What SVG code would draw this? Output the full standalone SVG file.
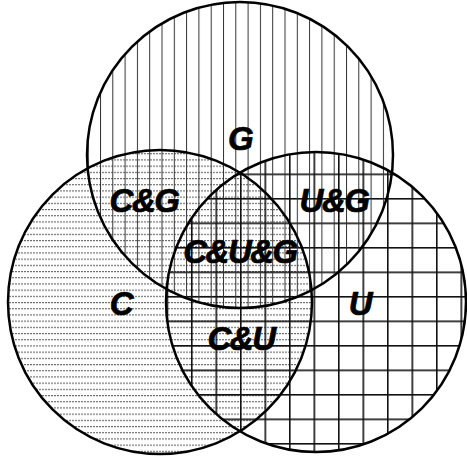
<svg xmlns="http://www.w3.org/2000/svg" width="467" height="459" viewBox="0 0 467 459">
  <style>
    .outline { fill: none; stroke: #000; stroke-width: 2.5; }
    .lbl { font-family: "Liberation Sans", Arial, sans-serif; font-weight: bold; font-style: italic; font-size: 33px; letter-spacing: -1.5px; fill: #000; stroke: #000; stroke-width: 0.7; text-anchor: middle; }
  </style>
  <defs>
    <pattern id="patG" patternUnits="userSpaceOnUse" x="100" y="0" width="12.3" height="20">
      <line x1="0.5" y1="0" x2="0.5" y2="20" stroke="#333" stroke-width="1"/>
    </pattern>
    <pattern id="patC" patternUnits="userSpaceOnUse" x="0" y="302" width="12" height="6.2">
      <line x1="0" y1="0.5" x2="12" y2="0.5" stroke="#666" stroke-width="1" stroke-dasharray="2 1"/>
    </pattern>
    <pattern id="patU" patternUnits="userSpaceOnUse" x="313.5" y="345" width="24.5" height="24.5">
      <line x1="0.8" y1="0" x2="0.8" y2="24.5" stroke="#111" stroke-width="1.6"/>
      <line x1="0" y1="0.8" x2="24.5" y2="0.8" stroke="#111" stroke-width="1.6"/>
    </pattern>
  </defs>
  <rect width="467" height="459" fill="#fff"/>
  <g id="set-C">
    <circle cx="160" cy="302" r="152" fill="url(#patC)"/>
  </g>
  <g id="set-U">
    <circle cx="316" cy="302" r="150" fill="url(#patU)"/>
  </g>
  <g id="set-G">
    <circle cx="240" cy="155" r="153" fill="url(#patG)"/>
  </g>
  <g id="outlines">
    <circle class="outline" cx="160" cy="302" r="152"/>
    <circle class="outline" cx="316" cy="302" r="150"/>
    <circle class="outline" cx="240" cy="155" r="153"/>
  </g>
  <g id="labels">
    <text class="lbl" x="240" y="150">G</text>
    <text class="lbl" x="144" y="212">C&amp;G</text>
    <text class="lbl" x="334" y="212">U&amp;G</text>
    <text class="lbl" x="240" y="263">C&amp;U&amp;G</text>
    <text class="lbl" x="241" y="350">C&amp;U</text>
    <text class="lbl" x="121" y="315">C</text>
    <text class="lbl" x="360" y="315">U</text>
  </g>
</svg>
